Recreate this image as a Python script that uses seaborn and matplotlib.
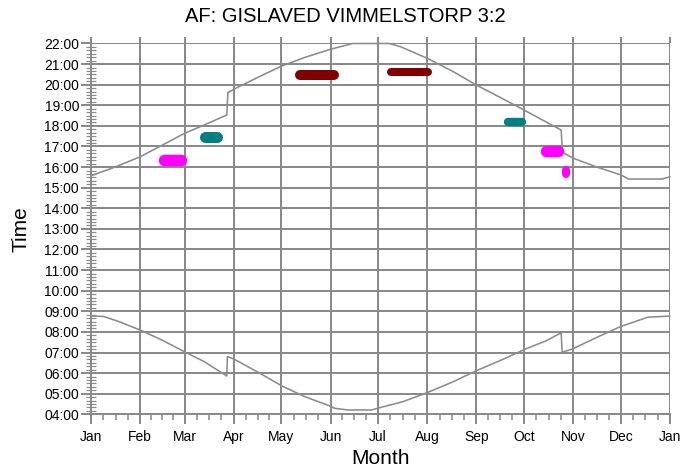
import numpy as np
import pandas as pd
import matplotlib
matplotlib.use("Agg")
import matplotlib.pyplot as plt
import seaborn as sns

# ---------------- data ----------------
title = "AF: GISLAVED VIMMELSTORP 3:2"
month_labels = ["Jan", "Feb", "Mar", "Apr", "May", "Jun", "Jul",
                "Aug", "Sep", "Oct", "Nov", "Dec", "Jan"]
month_start_days = [0, 31, 59, 90, 120, 151, 181, 212, 243, 273, 304, 334, 365]
hour_ticks = list(range(4, 23))
hour_labels = [f"{h:02d}:00" for h in hour_ticks]

# sunrise (day of year, hour)
sunrise_day = [0, 8, 17.6, 31, 44.6, 58.8, 71.5, 85.6, 86.0, 90.4, 105.8, 120.5,
               135, 150.7, 153.6, 162, 176.9, 180.5, 196.5, 211.9, 228.3, 243,
               258.9, 273.6, 287, 296.4, 297.0, 303.5, 319, 333.6, 350.8, 365]
sunrise_time = [8.77, 8.75, 8.50, 8.09, 7.61, 7.04, 6.55, 5.86, 6.80, 6.67, 6.02, 5.37,
                4.85, 4.40, 4.29, 4.21, 4.21, 4.29, 4.61, 5.05, 5.58, 6.12,
                6.64, 7.16, 7.57, 7.96, 7.01, 7.17, 7.74, 8.25, 8.71, 8.77]

# sunset (day of year, hour)
sunset_day = [0, 15, 31, 45, 59, 73, 85.6, 86.3, 90, 105, 120, 135, 151, 165,
              181, 188, 195, 212, 228, 243, 258, 273, 285, 296.4, 297.2, 304,
              319, 334, 339, 360, 365]
sunset_time = [15.58, 16.00, 16.50, 17.07, 17.64, 18.10, 18.53, 19.62, 19.78, 20.35,
               20.90, 21.33, 21.72, 22.00, 22.00, 22.00, 21.85, 21.28, 20.65, 19.98,
               19.38, 18.77, 18.27, 17.80, 16.72, 16.43, 16.00, 15.62, 15.42, 15.42, 15.53]

# observed events (date span, time)
event_day_start = [46.1, 71.7, 131.8, 188.9, 262.6, 286.7, 299.3]
event_day_end = [56.7, 79.6, 153.2, 212.3, 272.0, 294.1, 299.3]
event_time_start = [16.33, 17.45, 20.47, 20.61, 18.17, 16.79, 15.85]
event_time_end = [16.33, 17.45, 20.47, 20.61, 18.17, 16.79, 15.68]
event_color = ["#FF00FF", "#008080", "#800000", "#800000", "#008080", "#FF00FF", "#FF00FF"]
event_thickness_px = [11.5, 11, 10, 8, 8.4, 11.5, 8]

# ---------------- style ----------------
sns.set_theme(style="white")
plt.rcParams["font.family"] = ["Liberation Sans", "DejaVu Sans"]

W, H, DPI = 699, 473, 100
fig = plt.figure(figsize=(W / DPI, H / DPI), dpi=DPI)
ax = fig.add_axes([91 / W, 1 - 414.3 / H, (670 - 91) / W, (414.3 - 43.5) / H])

GRID = "#8a8a8a"
px = 72.0 / DPI  # points per pixel

sun_df = pd.concat([
    pd.DataFrame({"day": sunrise_day, "time": sunrise_time, "curve": "sunrise"}),
    pd.DataFrame({"day": sunset_day, "time": sunset_time, "curve": "sunset"}),
])
for name, sub in sun_df.groupby("curve"):
    sns.lineplot(data=sub, x="day", y="time", ax=ax, sort=False, estimator=None,
                 color="#8c8c8c", linewidth=1.6 * px, clip_on=False, zorder=3)

for d0, d1, t0, t1, c, w in zip(event_day_start, event_day_end, event_time_start,
                                event_time_end, event_color, event_thickness_px):
    sns.lineplot(x=[d0, d1], y=[t0, t1], ax=ax, sort=False, estimator=None,
                 color=c, linewidth=w * px, solid_capstyle="round", zorder=4)

ax.set_xlim(0, 365)
ax.set_ylim(4, 22)

ax.set_xticks(month_start_days)
ax.set_xticklabels(month_labels)
minor_x = []
for a, b in zip(month_start_days[:-1], month_start_days[1:]):
    minor_x += [a + (b - a) * k / 4 for k in (1, 2, 3)]
ax.set_xticks(minor_x, minor=True)

ax.set_yticks(hour_ticks)
ax.set_yticklabels(hour_labels)
ax.set_yticks(np.arange(4, 22, 1 / 6), minor=True)

ax.grid(True, which="major", color=GRID, linewidth=2 * px)
ax.set_axisbelow(True)

for s in ["top", "right"]:
    ax.spines[s].set_visible(False)
for s in ["left", "bottom"]:
    ax.spines[s].set_color(GRID)
    ax.spines[s].set_linewidth(2 * px)

ax.tick_params(axis="x", which="major", direction="out", length=10 * px, width=2 * px,
               color=GRID, labelsize=10, labelcolor="black", pad=6 * px,
               bottom=True, top=True, labeltop=False)
ax.tick_params(axis="x", which="minor", direction="out", length=6 * px, width=1.6 * px,
               color=GRID, bottom=True, top=False)
ax.tick_params(axis="y", which="major", direction="out", length=10 * px, width=2 * px,
               color=GRID, labelsize=10, labelcolor="black", pad=2 * px, left=True)
ax.tick_params(axis="y", which="minor", direction="inout", length=10 * px, width=1.2 * px,
               color=GRID, left=True)
# top ticks shorter
for t in ax.xaxis.get_major_ticks():
    t.tick2line.set_markersize(6.5 * px)

ax.set_xlabel("Month", fontsize=15, color="black", labelpad=1)
ax.set_ylabel("Time", fontsize=15, color="black", labelpad=6)
ax.xaxis.set_label_coords(0.5, -(458 - 414.3) / (414.3 - 43.5), transform=ax.transAxes)
ax.xaxis.label.set_va("center")
ax.yaxis.set_label_coords(-(91 - 21) / (670 - 91), 0.5, transform=ax.transAxes)
ax.yaxis.label.set_va("center")

fig.text(345.8 / W, 1 - 16.7 / H, title, ha="center", va="center", fontsize=14.5,
         color="black")

fig.savefig("out.png", dpi=DPI, facecolor="white")
